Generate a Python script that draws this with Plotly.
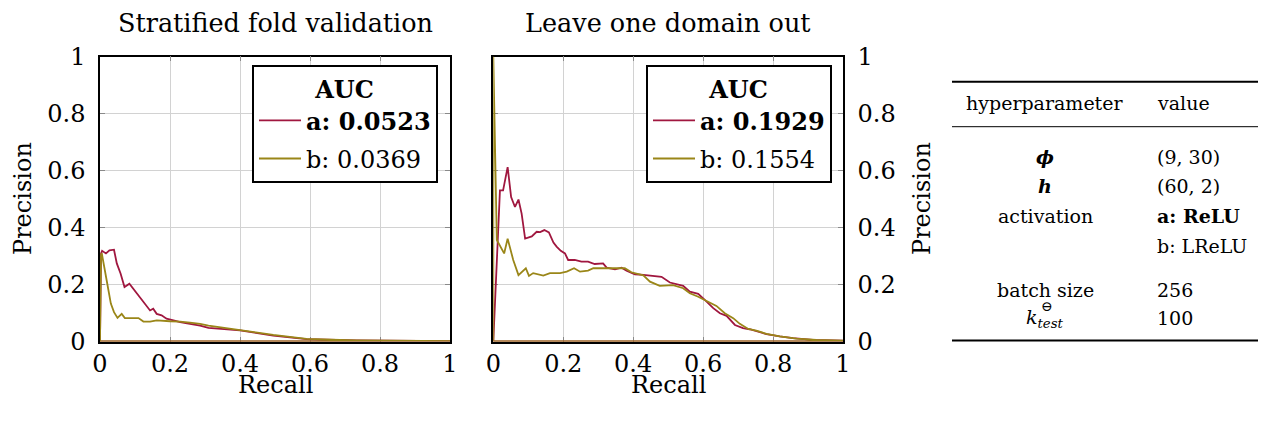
import plotly.graph_objects as go

# ---------------- data ----------------
# Stratified fold validation
sfv_a_recall = [1.0, 0.0, 0.0, 0.003, 0.006, 0.017, 0.027, 0.040, 0.048, 0.059, 0.070, 0.084, 0.095,
                0.105, 0.119, 0.133, 0.143, 0.152, 0.162, 0.176, 0.190, 0.210, 0.229, 0.257,
                0.286, 0.310, 0.40, 0.495, 0.59, 0.733, 0.924, 1.0]
sfv_a_precision = [0.0, 0.0, 0.0, 0.309, 0.318, 0.309, 0.320, 0.322, 0.274, 0.238, 0.191, 0.203, 0.186,
                   0.168, 0.150, 0.127, 0.109, 0.115, 0.097, 0.092, 0.080, 0.074, 0.068, 0.062,
                   0.056, 0.048, 0.039, 0.021, 0.008, 0.004, 0.002, 0.001]
sfv_b_recall = [1.0, 0.0, 0.0, 0.003, 0.005, 0.019, 0.031, 0.040, 0.050, 0.062, 0.071, 0.110, 0.124,
                0.143, 0.162, 0.200, 0.229, 0.257, 0.286, 0.310, 0.40, 0.495, 0.59, 0.733, 0.924, 1.0]
sfv_b_precision = [0.0, 0.0, 0.0, 0.303, 0.310, 0.215, 0.133, 0.103, 0.083, 0.097, 0.082, 0.082, 0.070,
                   0.070, 0.074, 0.071, 0.070, 0.066, 0.062, 0.056, 0.039, 0.023, 0.009, 0.004, 0.002, 0.001]

# Leave one domain out
lodo_a_recall = [1.0, 0.0, 0.0, 0.019, 0.028, 0.041, 0.051, 0.062, 0.072, 0.081, 0.091, 0.110, 0.124,
                 0.134, 0.146, 0.159, 0.172, 0.181, 0.193, 0.205, 0.214, 0.233, 0.252, 0.271,
                 0.290, 0.314, 0.324, 0.348, 0.367, 0.381, 0.405, 0.429, 0.457, 0.481, 0.505,
                 0.543, 0.562, 0.586, 0.610, 0.629, 0.648, 0.667, 0.691, 0.714, 0.733, 0.752,
                 0.781, 0.819, 0.857, 0.914, 0.990, 1.0]
lodo_a_precision = [0.0, 0.0, 0.0, 0.530, 0.530, 0.612, 0.507, 0.472, 0.498, 0.449, 0.361, 0.369, 0.385,
                    0.384, 0.391, 0.383, 0.347, 0.333, 0.318, 0.309, 0.286, 0.286, 0.280, 0.280,
                    0.272, 0.274, 0.259, 0.253, 0.259, 0.248, 0.236, 0.234, 0.231, 0.227, 0.207,
                    0.195, 0.175, 0.167, 0.140, 0.117, 0.099, 0.090, 0.058, 0.047, 0.043, 0.037,
                    0.026, 0.018, 0.012, 0.006, 0.004, 0.003]
lodo_b_recall = [1.0, 0.0, 0.0, 0.010, 0.031, 0.041, 0.057, 0.072, 0.093, 0.102, 0.114, 0.143, 0.162,
                 0.191, 0.210, 0.231, 0.248, 0.271, 0.286, 0.319, 0.348, 0.376, 0.395, 0.414,
                 0.429, 0.448, 0.476, 0.514, 0.543, 0.562, 0.586, 0.610, 0.638, 0.662, 0.686,
                 0.705, 0.729, 0.752, 0.781, 0.819, 0.867, 0.924, 0.990, 1.0]
lodo_b_precision = [0.0, 0.0, 1.0, 0.356, 0.309, 0.361, 0.286, 0.233, 0.257, 0.230, 0.240, 0.231, 0.240,
                    0.240, 0.245, 0.257, 0.245, 0.249, 0.257, 0.257, 0.259, 0.257, 0.243, 0.236,
                    0.232, 0.210, 0.195, 0.198, 0.187, 0.169, 0.157, 0.142, 0.125, 0.099, 0.082,
                    0.062, 0.044, 0.038, 0.027, 0.018, 0.010, 0.006, 0.004, 0.003]

auc_labels_sfv = ["<b>a: 0.0523</b>", "b: 0.0369"]
auc_labels_lodo = ["<b>a: 0.1929</b>", "b: 0.1554"]
subplot_titles = ["Stratified fold validation", "Leave one domain out"]
tick_vals = [0, 0.2, 0.4, 0.6, 0.8, 1]
tick_text = ["0", "0.2", "0.4", "0.6", "0.8", "1"]

table_params = ["hyperparameter", "<b><i>ϕ</i></b>", "<b><i>h</i></b>", "activation", "",
                "batch size", "<i>k</i><sub><i>test</i></sub>"]
table_values = ["value", "(9, 30)", "(60, 2)", "<b>a: ReLU</b>", "b: LReLU", "256", "100"]

# ---------------- style ----------------
RED = "#a0173f"
OLIVE = "#9a8618"
FONT = "DejaVu Serif"
OFF = 8  # page body margin
W, H = 1266 - OFF, 422 - OFF


def px_x(p):
    return (p - OFF) / W


def px_y(p):
    return 1 - (p - OFF) / H


fig = go.Figure()

fig.add_trace(go.Scatter(x=sfv_a_recall, y=sfv_a_precision, mode="lines", name=auc_labels_sfv[0],
                         line=dict(color=RED, width=1.8), xaxis="x", yaxis="y",
                         legend="legend", legendgroup="a"))
fig.add_trace(go.Scatter(x=sfv_b_recall, y=sfv_b_precision, mode="lines", name=auc_labels_sfv[1],
                         line=dict(color=OLIVE, width=1.8), xaxis="x", yaxis="y",
                         legend="legend", legendgroup="b"))
fig.add_trace(go.Scatter(x=lodo_a_recall, y=lodo_a_precision, mode="lines", name=auc_labels_lodo[0],
                         line=dict(color=RED, width=1.8), xaxis="x2", yaxis="y2",
                         legend="legend2", legendgroup="a2"))
fig.add_trace(go.Scatter(x=lodo_b_recall, y=lodo_b_precision, mode="lines", name=auc_labels_lodo[1],
                         line=dict(color=OLIVE, width=1.8), xaxis="x2", yaxis="y2",
                         legend="legend2", legendgroup="b2"))

axis_common = dict(range=[0, 1], tickvals=tick_vals, ticktext=tick_text, showgrid=True,
                   gridcolor="#d2d2d2", gridwidth=1, zeroline=False, showline=True,
                   linecolor="black", linewidth=1.5, mirror="ticks", ticks="inside",
                   ticklen=5, tickcolor="#8a8a8a", layer="below traces", automargin=False,
                   tickfont=dict(family=FONT, size=24, color="black"))

ydom = [px_y(341.5), px_y(56.5)]

legend_common = dict(xanchor="left", yanchor="top", bordercolor="black", borderwidth=2,
                     bgcolor="white", font=dict(family=FONT, size=24, color="black"),
                     title=dict(text="<b>AUC</b>", side="top center",
                                font=dict(family=FONT, size=24, color="black")),
                     tracegroupgap=4, itemwidth=42)

fig.update_layout(
    template="none",
    width=W, height=H, autosize=False, margin=dict(l=0, r=0, t=0, b=0, pad=0),
    paper_bgcolor="white", plot_bgcolor="white", showlegend=True,
    xaxis=dict(domain=[px_x(100), px_x(450)], anchor="y", **axis_common),
    yaxis=dict(domain=ydom, anchor="x", ticklabelstandoff=8, **axis_common),
    xaxis2=dict(domain=[px_x(493.3), px_x(843)], anchor="y2", **axis_common),
    yaxis2=dict(domain=ydom, anchor="x2", side="right", ticklabelstandoff=8, **axis_common),
    legend=dict(x=px_x(252), y=px_y(65), **legend_common),
    legend2=dict(x=px_x(646), y=px_y(65), **legend_common),
)

ann = []


def add_text(text, x, y, size, xanchor="center", angle=0):
    ann.append(dict(text=text, x=px_x(x), y=px_y(y), xref="paper", yref="paper",
                    xanchor=xanchor, yanchor="middle", showarrow=False, textangle=angle,
                    font=dict(family=FONT, size=size, color="black")))


for title, cx in zip(subplot_titles, [275, 668]):
    add_text(title, cx, 23, 25.5)
for cx in [275, 668]:
    add_text("Recall", cx, 385, 24)
for cx in [23, 922]:
    add_text("Precision", cx, 199, 24, angle=-90)

row_y = [103, 157, 186, 216, 246, 290, 318]
for name, val, ry in zip(table_params, table_values, row_y):
    if name:
        add_text(name, 1045, ry, 19)
    add_text(val, 1155, ry, 19, xanchor="left")
add_text("⊖", 1047, 306, 14)

fig.update_layout(annotations=ann)

shapes = []
for ry, lw in [(81.7, 2), (126.7, 1), (340.5, 2)]:
    shapes.append(dict(type="line", xref="paper", yref="paper", x0=px_x(952), x1=1,
                       y0=px_y(ry), y1=px_y(ry), line=dict(color="black", width=lw)))
fig.update_layout(shapes=shapes)

fig.write_html("out.html")
